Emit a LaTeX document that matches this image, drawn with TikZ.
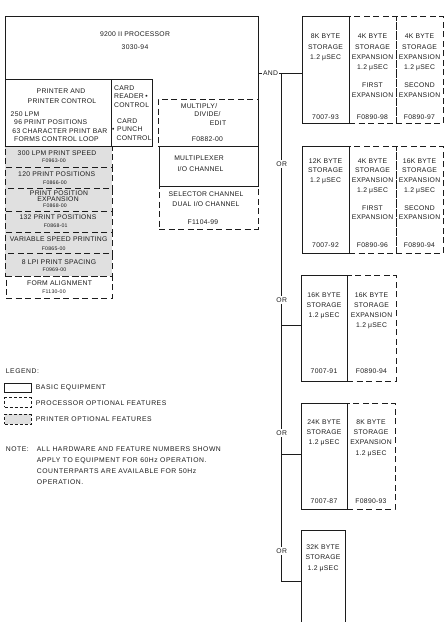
\documentclass[tikz,border=0pt]{standalone}
\usepackage{fontspec}
\setmainfont{Liberation Sans}
\newfontfamily\boxfont{Liberation Sans}[LetterSpace=4]
\newfontfamily\notefont{Liberation Sans}[LetterSpace=8]
\usetikzlibrary{fit}
\definecolor{ink}{HTML}{1C1C1C}
\definecolor{shade}{HTML}{E0E0E0}

\begin{document}
\begin{tikzpicture}[x=1pt,y=-1pt,
  every node/.style={font=\boxfont\fontsize{6.8}{8}\selectfont, text=ink},
  basic/.style={draw=ink, line width=0.9pt, inner sep=0pt},
  procopt/.style={draw=ink, line width=0.9pt, dash pattern=on 6pt off 3.5pt, inner sep=0pt},
  prtopt/.style={procopt, fill=shade},
  lgsolid/.style={draw=ink, line width=0.8pt, inner sep=0pt},
  lgdash/.style={draw=ink, line width=0.8pt, dash pattern=on 3pt off 2pt, inner sep=0pt},
  lbl/.style={inner sep=0pt, text height=4.9pt, text depth=0pt},
  lblw/.style={lbl, anchor=west},
  code/.style={lbl, font=\boxfont\fontsize{5.2}{6}\selectfont, text height=3.8pt},
  notetxt/.style={lblw, font=\notefont\fontsize{6.8}{8}\selectfont},
  orlbl/.style={fill=white, inner sep=1.5pt, text height=4.9pt, text depth=0pt},
  link/.style={draw=ink, line width=0.9pt},
]
\useasboundingbox (0,0) rectangle (446,622);
\fill[white] (0,0) rectangle (446,622);
\clip (0,0) rectangle (446,622);

% ---------------- processor and its features ----------------
\node[procopt, fit={(158,99) (258,146)}] (mde) {};
\node[procopt, fit={(159,186) (258,229)}] (sel) {};
\node[basic, fit={(159,146) (258,186)}] (mux) {};
\node[basic, fit={(5,79) (111,146)}] (pc) {};
\node[basic, fit={(111,79) (152,146)}] (card) {};
\draw[link] (5,146) -- (5,16) -- (258,16) -- (258,186);

\node[lbl] (proct) at (135,34) {9200 II PROCESSOR};
\node[lbl] (procn) at (135,46.7) {3030-94};

\node[lbl] at (61,91) {PRINTER AND};
\node[lbl] at (62,101) {PRINTER CONTROL};
\node[lblw] at (10.5,113.7) {250 LPM};
\node[lblw] at (14,122) {96 PRINT POSITIONS};
\node[lblw] at (12.3,130.7) {63 CHARACTER PRINT BAR};
\node[lblw] at (14,139.3) {FORMS CONTROL LOOP};

\node[lblw] at (114,88) {CARD};
\node[lblw] at (114,96.3) {READER};
\node[lbl] at (146.6,96.3) {•};
\node[lblw] at (114,105) {CONTROL};
\node[lblw] at (117,121) {CARD};
\node[lbl] at (113.3,129) {•};
\node[lblw] at (117,129) {PUNCH};
\node[lblw] at (116.5,137.7) {CONTROL};

\node[lbl] at (199,105.8) {MULTIPLY/};
\node[lbl] at (207.5,114.3) {DIVIDE/};
\node[lbl] at (218,123.3) {EDIT};
\node[lbl] at (207.5,139.3) {F0882-00};

\node[lbl] at (199,158.3) {MULTIPLEXER};
\node[lbl] at (200.5,169.3) {I/O CHANNEL};

\node[lbl] at (206,194.3) {SELECTOR CHANNEL};
\node[lbl] at (206,204.3) {DUAL I/O CHANNEL};
\node[lbl] at (203,221.7) {F1104-99};

% ---------------- printer optional features ----------------
\node[prtopt, fit={(5,146) (112,167)}] (po1) {};
\node[prtopt, fit={(5,167) (112,188)}] (po2) {};
\node[prtopt, fit={(5,188) (112,211)}] (po3) {};
\node[prtopt, fit={(5,211) (112,232)}] (po4) {};
\node[prtopt, fit={(5,232) (112,253)}] (po5) {};
\node[prtopt, fit={(5,253) (112,276)}] (po6) {};
\node[procopt, fit={(6,276) (112,298)}] (po7) {};
\draw[link] (pc.south west) -- (pc.south east);

\node[lbl] at (57,153) {300 LPM PRINT SPEED};
\node[code] at (54,161) {F0963-00};
\node[lbl] at (56.7,174.3) {120 PRINT POSITIONS};
\node[code] at (55,182.7) {F0866-00};
\node[lbl] at (59,193.3) {PRINT POSITION};
\node[lbl] at (58,199.3) {EXPANSION};
\node[code] at (55,205.3) {F0868-00};
\node[lbl] at (58,216.7) {132 PRINT POSITIONS};
\node[code] at (55.7,225.7) {F0868-01};
\node[lbl] at (58.7,239) {VARIABLE SPEED PRINTING};
\node[code] at (53.7,248.3) {F0865-00};
\node[lbl] at (59,261.7) {8 LPI PRINT SPACING};
\node[code] at (54.5,270) {F0969-00};
\node[lbl] at (59.5,282.7) {FORM ALIGNMENT};
\node[code] at (54,291.7) {F1130-00};

% ---------------- main storage ----------------
% row 1
\node[procopt, fit={(349,16) (396,123)}] (e1a) {};
\node[procopt, fit={(396,16) (443,123)}] (e1b) {};
\node[basic, fit={(302,16) (349,123)}] (s8k) {};
\foreach \y/\t in {36.3/8K BYTE, 46.7/STORAGE, 57/1.2 μSEC, 117/7007-93}
  \node[lbl] at (325.5,\y) {\t};
\foreach \y/\t in {36.3/4K BYTE, 46.7/STORAGE, 57/EXPANSION, 67.3/1.2 μSEC, 85/FIRST, 95/EXPANSION, 117/F0890-98}
  \node[lbl] at (372.5,\y) {\t};
\foreach \y/\t in {36.3/4K BYTE, 46.7/STORAGE, 57/EXPANSION, 67.3/1.2 μSEC, 85/SECOND, 95/EXPANSION, 117/F0890-97}
  \node[lbl] at (419.5,\y) {\t};

% row 2
\node[procopt, fit={(349,146) (396,253)}] (e2a) {};
\node[procopt, fit={(396,146) (443,253)}] (e2b) {};
\node[basic, fit={(302,146) (349,253)}] (s12k) {};
\foreach \y/\t in {160.7/12K BYTE, 170.3/STORAGE, 180/1.2 μSEC, 245/7007-92}
  \node[lbl] at (325.5,\y) {\t};
\foreach \y/\t in {160.7/4K BYTE, 170.3/STORAGE, 180/EXPANSION, 190/1.2 μSEC, 207.7/FIRST, 217/EXPANSION, 245/F0890-96}
  \node[lbl] at (372.5,\y) {\t};
\foreach \y/\t in {160.7/16K BYTE, 170.3/STORAGE, 180/EXPANSION, 190/1.2 μSEC, 207.7/SECOND, 217/EXPANSION, 245/F0890-94}
  \node[lbl] at (419.5,\y) {\t};

% row 3
\node[procopt, fit={(347,275) (396,381)}] (e3) {};
\node[basic, fit={(301,275) (347,381)}] (s16k) {};
\foreach \y/\t in {295/16K BYTE, 304.7/STORAGE, 315/1.2 μSEC, 370.7/7007-91}
  \node[lbl] at (324,\y) {\t};
\foreach \y/\t in {295/16K BYTE, 304.7/STORAGE, 315/EXPANSION, 325.3/1.2 μSEC, 370.7/F0890-94}
  \node[lbl] at (371.5,\y) {\t};

% row 4
\node[procopt, fit={(347,403) (395,509)}] (e4) {};
\node[basic, fit={(301,403) (347,509)}] (s24k) {};
\foreach \y/\t in {421.7/24K BYTE, 431.7/STORAGE, 442.3/1.2 μSEC, 501/7007-87}
  \node[lbl] at (324,\y) {\t};
\foreach \y/\t in {421.7/8K BYTE, 431.7/STORAGE, 442.3/EXPANSION, 453/1.2 μSEC, 501/F0890-93}
  \node[lbl] at (371,\y) {\t};

% row 5 (runs off the sheet)
\node[basic, fit={(301,530) (345,640)}] (s32k) {};
\foreach \y/\t in {546.7/32K BYTE, 557/STORAGE, 567.7/1.2 μSEC}
  \node[lbl] at (323,\y) {\t};

% ---------------- connections ----------------
\coordinate (procR) at (258,73);
\node[lbl, fill=white, inner xsep=1pt] (and) at (270.5,73) {AND};
\draw[link] (procR) -- (and) -- (and -| s8k.west);
\coordinate (bustop) at (281.7,73);
\coordinate (busend) at (281.7,581);
\coordinate (b3) at (281.7,325.7);
\coordinate (b4) at (281.7,454.7);
\draw[link] (bustop) -- (busend) -- (busend -| s32k.west);
\draw[link] (b3) -- (b3 -| s16k.west);
\draw[link] (b4) -- (b4 -| s24k.west);
\node[orlbl] (or2) at (281.7,164) {OR};
\node[orlbl] (or3) at (281.7,300) {OR};
\node[orlbl] (or4) at (281.7,433.3) {OR};
\node[orlbl] (or5) at (281.7,550.7) {OR};

% ---------------- legend and note ----------------
\node[notetxt] at (5.7,371) {LEGEND:};
\node[lgsolid, fit={(4.7,383.3) (31,392.3)}] (lg1) {};
\node[lgdash, fit={(4.7,397.7) (31,407.3)}] (lg2) {};
\node[lgdash, fill=shade, fit={(4.7,414.3) (31,424.3)}] (lg3) {};
\node[notetxt] at (35.7,387.3) {BASIC EQUIPMENT};
\node[notetxt] at (35.7,402.7) {PROCESSOR OPTIONAL FEATURES};
\node[notetxt] at (35.7,419) {PRINTER OPTIONAL FEATURES};

\node[notetxt] at (5.7,449.3) {NOTE:};
\node[notetxt] at (36.7,449.3) {ALL HARDWARE AND FEATURE NUMBERS SHOWN};
\node[notetxt] at (36.7,460) {APPLY TO EQUIPMENT FOR 60Hz OPERATION.};
\node[notetxt] at (36.7,471) {COUNTERPARTS ARE AVAILABLE FOR 50Hz};
\node[notetxt] at (36.7,482.3) {OPERATION.};
\end{tikzpicture}
\end{document}
